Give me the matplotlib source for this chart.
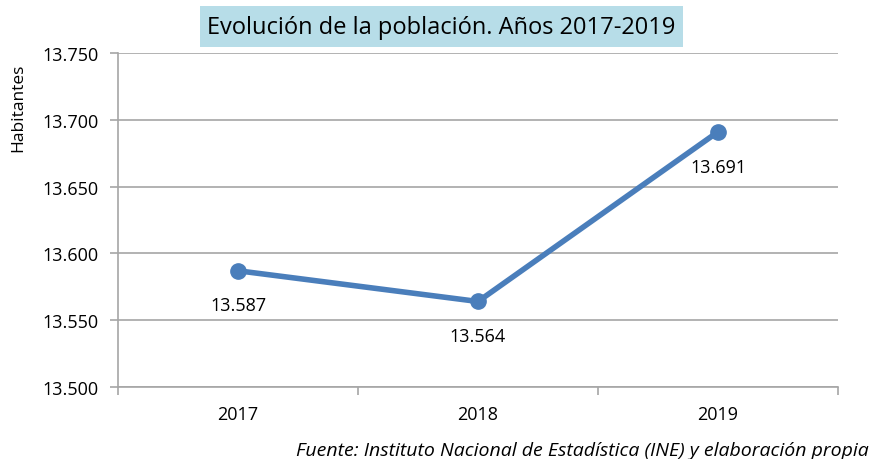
import matplotlib
matplotlib.use("Agg")
import matplotlib.pyplot as plt
from matplotlib.patches import Rectangle
from matplotlib.ticker import FixedLocator, FuncFormatter

years = ["2017", "2018", "2019"]
population = [13587, 13564, 13691]
y_ticks = [13500, 13550, 13600, 13650, 13700, 13750]

LINE_COLOR = "#4a7ebb"
GRID_COLOR = "#a6a6a6"
W, H = 872, 460

plt.rcParams["font.family"] = ["Open Sans", "DejaVu Sans"]


def es_thousands(v, _pos=None):
    return f"{int(round(v)):,}".replace(",", ".")


def main() -> None:
    fig = plt.figure(figsize=(W / 100, H / 100), dpi=100)
    ax = fig.add_axes([118 / W, 1 - 388 / H, 720 / W, 334 / H])

    x = list(range(len(years)))
    ax.plot(x, population, color=LINE_COLOR, linewidth=4, marker="o",
            markersize=11, solid_capstyle="round", zorder=3)

    # data labels under each point
    for xi, v in zip(x, population):
        ax.annotate(es_thousands(v), (xi, v), xytext=(0, -25),
                    textcoords="offset points", ha="center", va="center",
                    fontsize=13, color="black")

    ax.set_xlim(-0.5, len(years) - 0.5)
    ax.set_ylim(y_ticks[0], y_ticks[-1])
    ax.yaxis.set_major_locator(FixedLocator(y_ticks))
    ax.yaxis.set_major_formatter(FuncFormatter(es_thousands))

    ax.set_xticks(x)
    ax.set_xticklabels(years)
    ax.xaxis.set_minor_locator(FixedLocator([i - 0.5 for i in range(len(years) + 1)]))
    ax.tick_params(axis="x", which="major", length=0, pad=13, labelsize=13)
    ax.tick_params(axis="x", which="minor", length=6, color=GRID_COLOR, width=1.2)
    ax.tick_params(axis="y", length=6, color=GRID_COLOR, width=1.2, labelsize=13, pad=8)

    ax.grid(axis="y", color=GRID_COLOR, linewidth=1.2)
    ax.set_axisbelow(True)
    for side in ("top", "right"):
        ax.spines[side].set_visible(False)
    for side in ("left", "bottom"):
        ax.spines[side].set_color(GRID_COLOR)
        ax.spines[side].set_linewidth(1.2)

    fig.text(18 / W, 1 - 108 / H, "Habitantes", rotation=90,
             ha="center", va="center", fontsize=12.5)

    # title with light blue box
    fig.patches.append(Rectangle((200 / W, 1 - 48 / H), 483 / W, 41 / H,
                                 transform=fig.transFigure, facecolor="#b7dde8",
                                 edgecolor="none", zorder=0))
    fig.text(441 / W, 1 - 28 / H, "Evolución de la población. Años 2017-2019",
             ha="center", va="center", fontsize=17)

    fig.text(869 / W, 1 - 451 / H,
             "Fuente: Instituto Nacional de Estadística (INE) y elaboración propia",
             ha="right", va="center", fontsize=14, style="italic")

    fig.savefig("out.png", dpi=100)


if __name__ == "__main__":
    main()
